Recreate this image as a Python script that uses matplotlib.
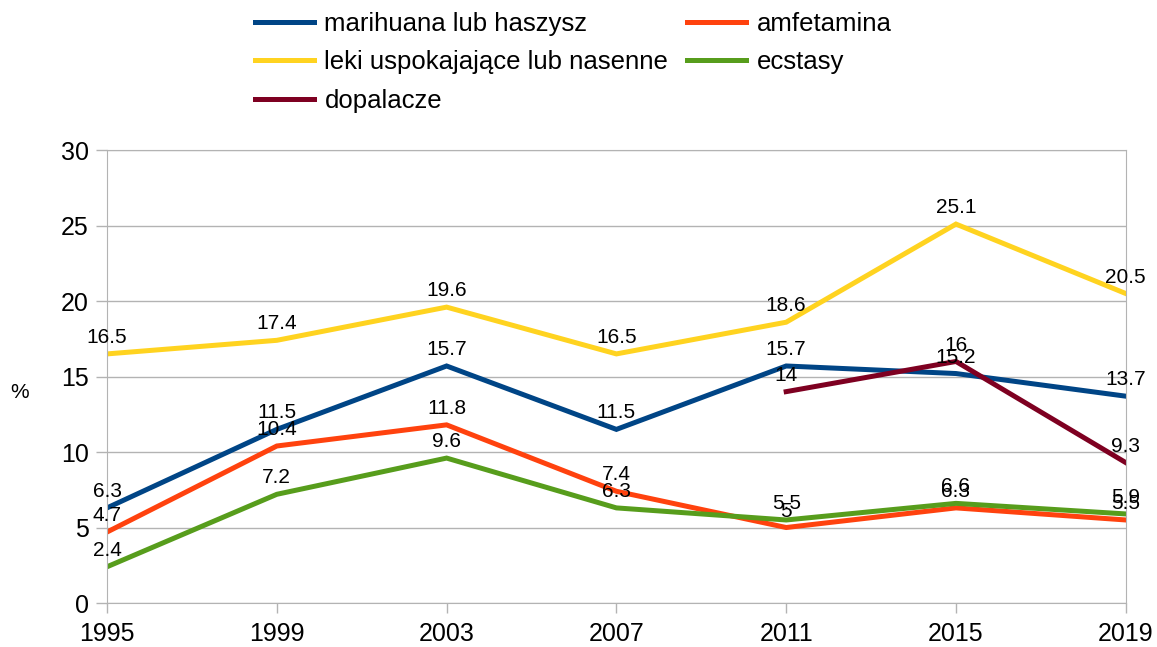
import numpy as np
import matplotlib.pyplot as plt

plt.rcParams['font.family'] = ['Liberation Sans', 'DejaVu Sans']

years = [1995, 1999, 2003, 2007, 2011, 2015, 2019]
marihuana = [6.3, 11.5, 15.7, 11.5, 15.7, 15.2, 13.7]
amfetamina = [4.7, 10.4, 11.8, 7.4, 5, 6.3, 5.5]
leki = [16.5, 17.4, 19.6, 16.5, 18.6, 25.1, 20.5]
ecstasy = [2.4, 7.2, 9.6, 6.3, 5.5, 6.6, 5.9]
dopalacze = [None, None, None, None, 14, 16, 9.3]

series = [
    ('marihuana lub haszysz', marihuana, '#004586'),
    ('amfetamina', amfetamina, '#ff420e'),
    ('leki uspokajające lub nasenne', leki, '#ffd320'),
    ('ecstasy', ecstasy, '#579d1c'),
    ('dopalacze', dopalacze, '#7e0021'),
]

fig = plt.figure(figsize=(11.57, 6.47), dpi=100)
ax = fig.add_axes([0.0925, 0.068, 0.8805, 0.7])

for name, vals, color in series:
    xs = [x for x, v in zip(years, vals) if v is not None]
    ys = [v for v in vals if v is not None]
    ax.plot(xs, ys, color=color, lw=3.6, label=name, solid_joinstyle='miter')
    for x, y in zip(xs, ys):
        ax.annotate(f'{y:g}', (x, y), xytext=(0, 5), textcoords='offset points',
                    ha='center', va='bottom', fontsize=15, color='black')

ax.set_xlim(1995, 2019)
ax.set_ylim(0, 30)
ax.set_xticks(years)
ax.set_yticks(range(0, 31, 5))
ax.tick_params(axis='both', labelsize=18, color='#b3b3b3', width=1)
ax.tick_params(axis='x', length=7, pad=7)
ax.tick_params(axis='y', length=8, pad=5)
ax.grid(axis='y', color='#b3b3b3', lw=1)
for s in ax.spines.values():
    s.set_color('#b3b3b3')
ax.set_axisbelow(True)

fig.text(0.017, 0.393, '%', fontsize=15, ha='center', va='center')

handles, labels = ax.get_legend_handles_labels()
order = [0, 2, 4, 1, 3]
fig.legend([handles[i] for i in order], [labels[i] for i in order],
           loc='upper left', bbox_to_anchor=(255 / 1157, 1 - 12 / 647), ncol=2,
           frameon=False, fontsize=18.5, handlelength=2.3, handletextpad=0.4,
           columnspacing=0.74, labelspacing=0.56, borderpad=0, borderaxespad=0)

fig.savefig('out.png', dpi=100)
